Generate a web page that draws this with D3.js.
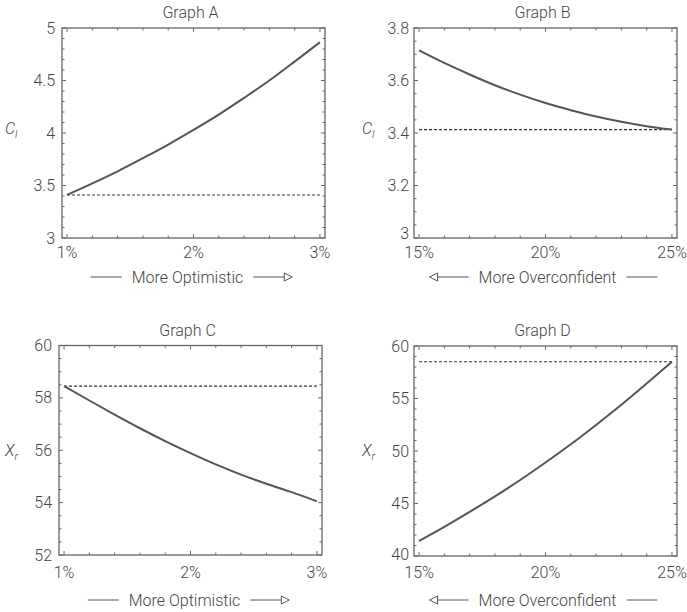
<!DOCTYPE html>
<html>
<head>
<meta charset="utf-8">
<script src="https://cdn.jsdelivr.net/npm/d3@7"></script>
<style>
  body { margin: 0; background: #fff; }
  text { font-family: Roboto, "Liberation Sans", Arial, sans-serif; font-weight: 300; fill: #444; }
</style>
</head>
<body>
<svg id="chart" width="687" height="612"></svg>
<script>
// ---------- data ----------
const optimismX = [1.0, 1.2, 1.4, 1.6, 1.8, 2.0, 2.2, 2.4, 2.6, 2.8, 3.0];
const overconfX = [15, 16, 17, 18, 19, 20, 21, 22, 23, 24, 25];

const graphA_Cl = [3.41, 3.52, 3.635, 3.76, 3.89, 4.03, 4.175, 4.335, 4.5, 4.68, 4.865];
const graphB_Cl = [3.715, 3.667, 3.623, 3.582, 3.546, 3.514, 3.487, 3.463, 3.443, 3.426, 3.413];
const graphC_Xr = [58.45, 57.9, 57.36, 56.84, 56.35, 55.89, 55.46, 55.07, 54.72, 54.4, 54.05];
const graphD_Xr = [41.44, 42.78, 44.2, 45.68, 47.24, 48.9, 50.64, 52.48, 54.4, 56.42, 58.5];

const baseA = 3.41, baseB = 3.413, baseC = 58.45, baseD = 58.5;

const ticksA = [3, 3.5, 4, 4.5, 5];
const ticksB = [3, 3.2, 3.4, 3.6, 3.8];
const ticksC = [52, 54, 56, 58, 60];
const ticksD = [40, 45, 50, 55, 60];
const optTicks = [1, 2, 3];
const ovcTicks = [15, 20, 25];

const svg = d3.select("#chart");
svg.append("rect").attr("width", 687).attr("height", 612).attr("fill", "#fff");

const panels = [
  { title: "Graph A", box: [62, 28, 325, 238], xDom: [0.96, 3.04], yDom: [3, 5],
    xs: optimismX, ys: graphA_Cl, base: baseA, xTicks: optTicks, xMinor: 0.2, yTicks: ticksA, yMinor: 0.1,
    lab: ["C", "l"], labX: 5, labY: 134, gap: 7, lowDy: 5.5, tickBase: 258, capY: 283,
    caption: "More Optimistic", dir: "right" },
  { title: "Graph B", box: [414, 28, 677, 238], xDom: [14.8, 25.2], yDom: [3, 3.8],
    xs: overconfX, ys: graphB_Cl, base: baseB, xTicks: ovcTicks, xMinor: 1, yTicks: ticksB, yMinor: 0.05,
    lab: ["C", "l"], labX: 362, labY: 134, gap: 5, lowDy: 1, tickBase: 258, capY: 283,
    caption: "More Overconfident", dir: "left" },
  { title: "Graph C", box: [59, 345.5, 322, 555], xDom: [0.96, 3.04], yDom: [52, 60],
    xs: optimismX, ys: graphC_Xr, base: baseC, xTicks: optTicks, xMinor: 0.2, yTicks: ticksC, yMinor: 0.5,
    lab: ["X", "r"], labX: 5, labY: 456, gap: 7, lowDy: 5.5, tickBase: 578, capY: 606,
    caption: "More Optimistic", dir: "right" },
  { title: "Graph D", box: [414, 346, 677, 556], xDom: [14.8, 25.2], yDom: [40, 60],
    xs: overconfX, ys: graphD_Xr, base: baseD, xTicks: ovcTicks, xMinor: 1, yTicks: ticksD, yMinor: 1,
    lab: ["X", "r"], labX: 362, labY: 456, gap: 5, lowDy: 4, tickBase: 578, capY: 606,
    caption: "More Overconfident", dir: "left" }
];

panels.forEach(drawPanel);

function drawPanel(p) {
  const [x0, y0, x1, y1] = p.box;
  const x = d3.scaleLinear().domain(p.xDom).range([x0, x1]);
  const y = d3.scaleLinear().domain(p.yDom).range([y1, y0]);
  const g = svg.append("g");
  const eps = 1e-9;

  // minor + major ticks, inward on all four sides
  const xMin = d3.range(p.xTicks[0], p.xTicks[p.xTicks.length - 1] + eps, p.xMinor);
  const yMin = d3.range(p.yDom[0], p.yDom[1] + eps, p.yMinor);
  const isMajor = (v, arr) => arr.some(t => Math.abs(t - v) < 1e-6);
  xMin.forEach(v => {
    const len = isMajor(v, p.xTicks) ? 4 : 2.5;
    g.append("line").attr("x1", x(v)).attr("x2", x(v)).attr("y1", y1).attr("y2", y1 - len);
    g.append("line").attr("x1", x(v)).attr("x2", x(v)).attr("y1", y0).attr("y2", y0 + len);
  });
  yMin.forEach(v => {
    const len = isMajor(v, p.yTicks) ? 4 : 2.5;
    g.append("line").attr("y1", y(v)).attr("y2", y(v)).attr("x1", x0).attr("x2", x0 + len);
    g.append("line").attr("y1", y(v)).attr("y2", y(v)).attr("x1", x1).attr("x2", x1 - len);
  });
  g.selectAll("line").attr("stroke", "#666").attr("stroke-width", 1);

  // frame
  g.append("rect").attr("x", x0).attr("y", y0).attr("width", x1 - x0).attr("height", y1 - y0)
    .attr("fill", "none").attr("stroke", "#666").attr("stroke-width", 1.3);

  // baseline (dashed) and curve
  const xr = d3.extent(p.xs);
  g.append("line").attr("x1", x(xr[0])).attr("x2", x(xr[1])).attr("y1", y(p.base)).attr("y2", y(p.base))
    .attr("stroke", "#333").attr("stroke-width", 1.1).attr("stroke-dasharray", "3,2");

  const line = d3.line().x(d => x(d[0])).y(d => y(d[1])).curve(d3.curveMonotoneX);
  g.append("path").datum(p.xs.map((v, i) => [v, p.ys[i]]))
    .attr("fill", "none").attr("stroke", "#555").attr("stroke-width", 2).attr("d", line);

  // tick labels
  p.xTicks.forEach(t => {
    g.append("text").attr("x", x(t)).attr("y", p.tickBase).attr("text-anchor", "middle")
      .attr("font-size", 16).text(t + "%");
  });
  p.yTicks.forEach((t, i) => {
    const dy = i === 0 ? p.lowDy : 5.5;
    g.append("text").attr("x", x0 - p.gap).attr("y", y(t) + dy).attr("text-anchor", "end")
      .attr("font-size", 16).text(String(t));
  });

  // title
  g.append("text").attr("x", (x0 + x1) / 2 - 3).attr("y", y0 - 10).attr("text-anchor", "middle")
    .attr("font-size", 16).text(p.title);

  // y label with subscript
  const lab = g.append("text").attr("x", p.labX).attr("y", p.labY).attr("font-size", 16);
  lab.append("tspan").attr("font-style", "italic").text(p.lab[0]);
  lab.append("tspan").attr("font-style", "italic").attr("font-size", 11).attr("dy", 4).text(p.lab[1]);

  // caption with arrow
  const cx = (x0 + x1) / 2 - 2, cy = p.capY - 6;
  const cap = g.append("text").attr("y", p.capY).attr("font-size", 16).text(p.caption);
  const L = cap.node().getComputedTextLength();
  const lineLen = 31, tri = 8, pad = 10;
  const total = lineLen + pad + L + pad + lineLen + tri;
  const sx = cx - total / 2;
  const cg = g.append("g").attr("stroke", "#555").attr("stroke-width", 1).attr("fill", "#fff");
  if (p.dir === "right") {
    cg.append("line").attr("x1", sx).attr("x2", sx + lineLen).attr("y1", cy).attr("y2", cy);
    cap.attr("x", sx + lineLen + pad);
    const rx = sx + lineLen + pad + L + pad;
    cg.append("line").attr("x1", rx).attr("x2", rx + lineLen).attr("y1", cy).attr("y2", cy);
    cg.append("path").attr("d", `M${rx + lineLen},${cy - 4}L${rx + lineLen + tri},${cy}L${rx + lineLen},${cy + 4}Z`);
  } else {
    cg.append("path").attr("d", `M${sx + tri},${cy - 4}L${sx},${cy}L${sx + tri},${cy + 4}Z`);
    cg.append("line").attr("x1", sx + tri).attr("x2", sx + tri + lineLen).attr("y1", cy).attr("y2", cy);
    cap.attr("x", sx + tri + lineLen + pad);
    const rx = sx + tri + lineLen + pad + L + pad;
    cg.append("line").attr("x1", rx).attr("x2", rx + lineLen).attr("y1", cy).attr("y2", cy);
  }
}
</script>
</body>
</html>
